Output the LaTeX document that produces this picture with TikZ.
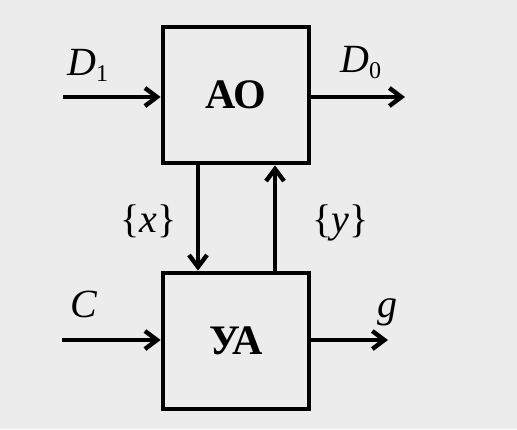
\documentclass[tikz,border=0pt]{standalone}
\usepackage{fontspec}
\setmainfont{Liberation Serif}
\usetikzlibrary{arrows.meta}
\begin{document}
\begin{tikzpicture}[x=0.5pt, y=-0.5pt, line width=2.2pt,
  >={Straight Barb[length=6pt,width=9pt]},
  block/.style={draw, line width=2.4pt, minimum width=73pt, minimum height=68pt,
    inner sep=0pt, font=\fontsize{21}{24}\selectfont\bfseries},
  lbl/.style={anchor=base west, inner sep=0pt, font=\fontsize{20}{24}\selectfont}]
  % 0. 背景と枠
  \fill[gray!15] (0,0) rectangle (517,429);
  \useasboundingbox (0,0) rectangle (517,429);

  % 1. ブロック
  \node[block] (ao) at (236,95) {АО};
  \node[block] (ua) at (236,341) {УА};

  % 2. 入出力の端点
  \coordinate (d1) at (63,97);
  \coordinate (d0) at (405,97);
  \coordinate (c) at (62,340);
  \coordinate (g) at (388,340);
  \coordinate (xl) at (198,0);
  \coordinate (yl) at (275,0);

  % 3. 矢印
  \draw[->] (d1) -- (ao.west |- d1);
  \draw[->] (ao.east |- d0) -- (d0);
  \draw[->] (ao.south -| xl) -- (ua.north -| xl);
  \draw[->] (ua.north -| yl) -- (ao.south -| yl);
  \draw[->] (c) -- (ua.west |- c);
  \draw[->] (ua.east |- g) -- (g);

  % 4. ラベル
  \node[lbl] (d1lbl) at (65,75) {\textit{D}\textsubscript{\fontsize{12}{14}\selectfont 1}};
  \node[lbl] (d0lbl) at (338,72) {\textit{D}\textsubscript{\fontsize{12}{14}\selectfont 0}};
  \node[lbl] (xlbl) at (118,232) {\{\textit{x}\}};
  \node[lbl] (ylbl) at (310,232) {\{\textit{y}\}};
  \node[lbl] (clbl) at (68,317) {\textit{C}};
  \node[lbl] (glbl) at (375,317) {\textit{g}};

\end{tikzpicture}
\end{document}
